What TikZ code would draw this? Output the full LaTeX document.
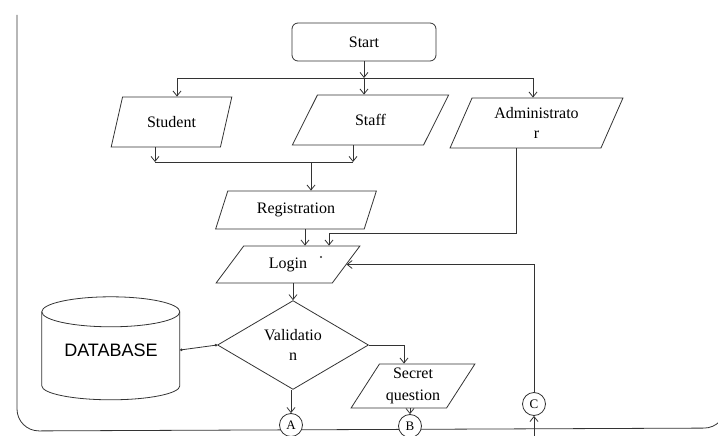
\documentclass[tikz,border=0pt]{standalone}
\usepackage{fontspec}
\setmainfont{Liberation Serif}
\newfontfamily\dbfont{Liberation Sans}
\usetikzlibrary{shapes.geometric,arrows.meta}
\tikzset{
  ln/.style={draw=black!80, line width=0.8pt},
  arr/.style={ln, -{Straight Barb[length=5pt,width=8pt]}},
  para/.style={ln, trapezium, trapezium stretches=true, inner sep=1pt, align=center, font=\fontsize{16}{20}\selectfont},
  conn/.style={ln, circle, fill=white, minimum size=23pt, inner sep=0pt, font=\fontsize{13}{15}\selectfont},
}
\begin{document}
\begin{tikzpicture}[x=1pt,y=-1pt]
\useasboundingbox (0,0) rectangle (718,436);
\clip (0,0) rectangle (718,436);
% frame
\draw[ln, rounded corners=22pt] (17,15) -- (17,431) -- (726,428) -- (726,370);
% nodes
\node[ln, rounded corners=6pt, minimum width=144pt, minimum height=38pt, font=\fontsize{16}{20}\selectfont] (start) at (364,42) {Start};
\node[para, trapezium left angle=66, trapezium right angle=114, minimum width=121pt, minimum height=50pt] (student) at (171.5,122) {Student};
\node[para, trapezium left angle=60, trapezium right angle=120, minimum width=157pt, minimum height=50pt] (staff) at (370.5,120) {Staff};
\node[para, trapezium left angle=66, trapezium right angle=114, minimum width=173pt, minimum height=50pt] (admin) at (536.5,123) {Administrato\\r};
\node[para, trapezium left angle=66, trapezium right angle=114, minimum width=162pt, minimum height=38pt] (reg) at (296,210) {Registration};
\node[para, trapezium left angle=52, trapezium right angle=128, minimum width=144pt, minimum height=37pt] (login) at (288,264.5) {Login};
\node[ln, diamond, minimum width=151pt, minimum height=86pt, inner sep=0pt, align=center, font=\fontsize{16}{20}\selectfont] (vali) at (293,345) {Validatio\\n};
\node[para, trapezium left angle=58, trapezium right angle=122, minimum width=124pt, minimum height=44pt, font=\fontsize{16}{22}\selectfont] (secret) at (413,386) {Secret\\question};
\node[minimum width=138pt, minimum height=106pt, inner sep=0pt, font=\dbfont\fontsize{18}{20}\selectfont] (db) at (111,350) {DATABASE};
\node[conn] (A) at (291,425) {A};
\node[conn] (B) at (410,426) {B};
\node[conn] (C) at (534,404) {C};
% cylinder outline of the database
\draw[ln] (db.north west) ++(0,15) coordinate (cyl1) arc[start angle=180, end angle=-180, x radius=69pt, y radius=15pt];
\draw[ln] (cyl1) -- ++(0,74) arc[start angle=180, end angle=360, x radius=69pt, y radius=14pt] -- ++(0,-74);
% stray dot next to Login
\fill[black!80] (321,257) circle (1.2pt);
% junction coordinates
\coordinate (j1) at (364,78);
\coordinate (jL) at (177,78);
\coordinate (jR) at (533,78);
\coordinate (m1) at (155,162);
\coordinate (m2) at (353,162);
\coordinate (m3) at (311,162);
\coordinate (r1) at (305,229);
\coordinate (a1) at (516,233);
\coordinate (a2) at (329,233);
\coordinate (v1) at (404,345);
\coordinate (cb) at (534,436);
% connectors
\draw[arr] (start) -- (j1);
\draw[ln] (jL) -- (jR);
\draw[arr] (jL) -- (jL |- student.north);
\draw[arr] (j1) -- (j1 |- staff.north);
\draw[arr] (jR) -- (jR |- admin.north);
\draw[arr] (m1 |- student.south) -- (m1);
\draw[arr] (m2 |- staff.south) -- (m2);
\draw[ln] (m1) -- (m2);
\draw[arr] (m3) -- (m3 |- reg.north);
\draw[arr] (r1 |- reg.south) -- (r1 |- login.north);
\draw[ln] (a1 |- admin.south) -- (a1) -- (a2);
\draw[arr] (a2) -- (a2 |- login.north);
\draw[arr] (login.south -| vali.north) -- (vali.north);
\draw[ln, {Circle[length=2.5pt]}-{Circle[length=2.5pt]}] (vali.west) -- (db.east);
\draw[ln] (vali.east) -- (v1);
\draw[arr] (v1) -- (v1 |- secret.north);
\draw[arr] (vali.south -| A.north) -- (A.north);
\draw[arr] (B.north |- secret.south) -- (B.north);
\draw[arr] (C.north) |- (login.east);
\draw[arr] (cb) -- (C.south);
\end{tikzpicture}
\end{document}
